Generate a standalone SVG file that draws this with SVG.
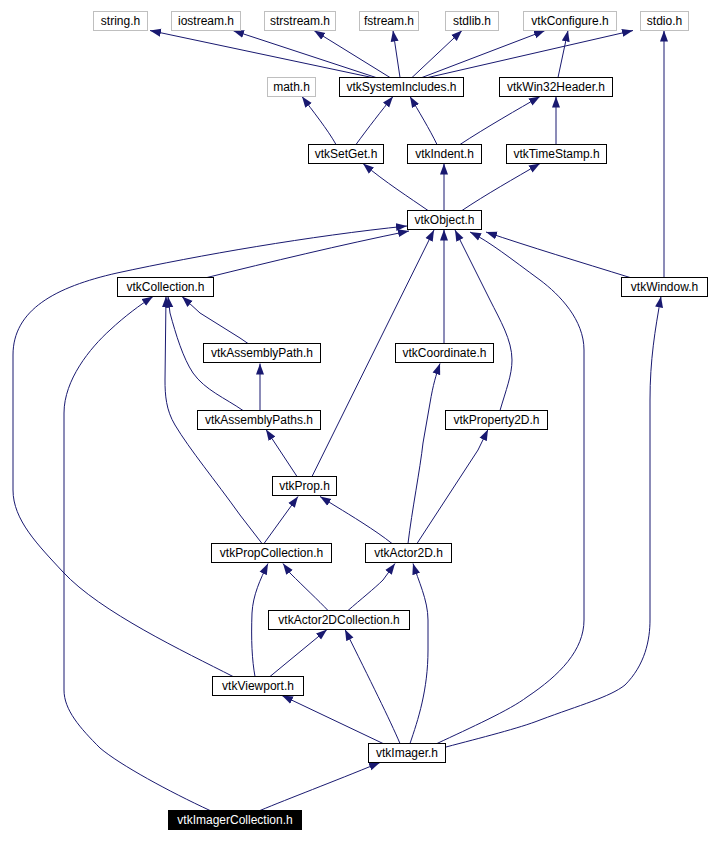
<svg xmlns="http://www.w3.org/2000/svg" width="709" height="842" viewBox="0 0 709 842">
<style>
.n rect{fill:#fff;stroke:#000;stroke-width:1}
.g rect{fill:#fff;stroke:#bfbfbf;stroke-width:1}
.r rect{fill:#000;stroke:#000;stroke-width:1}
text{font-family:"Liberation Sans",Arial,sans-serif;font-size:12px;text-anchor:middle;fill:#000}
.r text{fill:#fff}
#edges path{fill:none;stroke:#191970;stroke-width:1;marker-end:url(#ah)}
</style>
<defs>
<marker id="ah" markerWidth="11" markerHeight="9" refX="11" refY="4.5" orient="auto" markerUnits="userSpaceOnUse">
<path d="M0,0.5 L11,4.5 L0,8.5 z" fill="#191970"/>
</marker>
</defs>
<rect width="709" height="842" fill="#fff"/>
<g id="edges">
<path d="M372,77.5 L150,30.5"/>
<path d="M376,77.5 L233,30.5"/>
<path d="M390,77.5 L314,30.5"/>
<path d="M400,77.5 L393,30.5"/>
<path d="M412,77.5 L462,30.5"/>
<path d="M422,77.5 L545,30.5"/>
<path d="M428,77.5 L633,30.5"/>
<path d="M558,77.5 L568,30.5"/>
<path d="M664,277.5 L664,30.5"/>
<path d="M336,144.5 C328,130 312,110 302,96.5"/>
<path d="M356,144.5 C368,128 382,110 393,96.5"/>
<path d="M437,144.5 C430,130 418,110 410,96.5"/>
<path d="M460,144.5 C485,128 520,108 540,96.5"/>
<path d="M556,144.5 L556,96.5"/>
<path d="M428,210.5 C410,198 385,182 363,163.5"/>
<path d="M444,210.5 L444,163.5"/>
<path d="M462,210.5 C485,195 515,178 540,163.5"/>
<path d="M207,277.5 C270,262 340,245 409,231"/>
<path d="M233,676.5 C185,652 100,612 63,572 C38,545 13,520 13,490 L13,355 C13,310 55,287 117,273 C200,255 310,236 407,226"/>
<path d="M312,476.5 L434,230"/>
<path d="M444,343.5 L444,229.5"/>
<path d="M500,410.5 C506,390 512,375 512,360 C512,340 500,320 490,300 L455,230"/>
<path d="M437,743.5 C470,728 510,710 527,697 C560,675 584,650 584,620 L584,350 C584,320 560,295 540,280 C510,258 490,242 470,232"/>
<path d="M630,277.5 C580,262 530,247 486,232"/>
<path d="M210,810.5 C170,792 120,765 100,748 C80,728 64,710 64,690 L64,413 C64,380 90,348 110,330 C125,316 140,305 153,296.5"/>
<path d="M262,543.5 L240,515 C215,480 190,450 175,425 C166,410 165,395 165,380 L166,296.5"/>
<path d="M243,410.5 C225,398 205,390 193,373 C183,358 176,335 170,313 L168,296.5"/>
<path d="M248,343.5 L240,338 L200,313 L182,296.5"/>
<path d="M446,747 C480,738 520,728 540,720 C580,705 610,697 625,685 C645,665 650,640 650,620 L650,400 C650,360 655,330 661,296.5"/>
<path d="M260,410.5 L260,363.5"/>
<path d="M408,543.5 C412,510 420,470 423,443 L430,403 C433,385 436,375 440,363.5"/>
<path d="M297,476.5 L266,429.5"/>
<path d="M417,543.5 L478,450 L488,429.5"/>
<path d="M264,543.5 L298,496.5"/>
<path d="M392,543.5 C375,530 350,515 337,507 L320,496.5"/>
<path d="M328,610.5 C318,600 305,588 290,573 L283,563.5"/>
<path d="M348,610.5 C360,600 375,588 383,580 L395,563.5"/>
<path d="M255,676.5 C252,660 251,640 252,613 C253,595 260,580 268,563.5"/>
<path d="M410,743.5 C418,720 428,690 428,650 L428,620 C428,600 418,580 413,563.5"/>
<path d="M270,676.5 L327,629.5"/>
<path d="M400,743.5 C390,720 370,680 345,629.5"/>
<path d="M383,743.5 L282,695.5"/>
<path d="M260,810.5 C290,798 330,783 380,762.5"/>
</g>
<g id="string_h" class="g"><rect x="93.5" y="11.5" width="54" height="19"/><text x="120.5" y="25">string.h</text></g>
<g id="iostream_h" class="g"><rect x="171.5" y="11.5" width="69" height="19"/><text x="206" y="25">iostream.h</text></g>
<g id="strstream_h" class="g"><rect x="264.5" y="11.5" width="71" height="19"/><text x="300" y="25">strstream.h</text></g>
<g id="fstream_h" class="g"><rect x="359.5" y="11.5" width="59" height="19"/><text x="389" y="25">fstream.h</text></g>
<g id="stdlib_h" class="g"><rect x="445.5" y="11.5" width="53" height="19"/><text x="472" y="25">stdlib.h</text></g>
<g id="vtkConfigure_h" class="g"><rect x="523.5" y="11.5" width="93" height="19"/><text x="570" y="25">vtkConfigure.h</text></g>
<g id="stdio_h" class="g"><rect x="640.5" y="11.5" width="48" height="19"/><text x="664.5" y="25">stdio.h</text></g>
<g id="math_h" class="g"><rect x="267.5" y="77.5" width="48" height="19"/><text x="291.5" y="91">math.h</text></g>
<g id="vtkSystemIncludes_h" class="n"><rect x="339.5" y="77.5" width="124" height="19"/><text x="401.5" y="91">vtkSystemIncludes.h</text></g>
<g id="vtkWin32Header_h" class="n"><rect x="499.5" y="77.5" width="113" height="19"/><text x="556" y="91">vtkWin32Header.h</text></g>
<g id="vtkSetGet_h" class="n"><rect x="308.5" y="144.5" width="75" height="19"/><text x="346" y="158">vtkSetGet.h</text></g>
<g id="vtkIndent_h" class="n"><rect x="407.5" y="144.5" width="74" height="19"/><text x="444.5" y="158">vtkIndent.h</text></g>
<g id="vtkTimeStamp_h" class="n"><rect x="506.5" y="144.5" width="100" height="19"/><text x="556.5" y="158">vtkTimeStamp.h</text></g>
<g id="vtkObject_h" class="n"><rect x="407.5" y="210.5" width="74" height="19"/><text x="444.5" y="224">vtkObject.h</text></g>
<g id="vtkCollection_h" class="n"><rect x="117.5" y="277.5" width="96" height="19"/><text x="165.5" y="291">vtkCollection.h</text></g>
<g id="vtkWindow_h" class="n"><rect x="621.5" y="277.5" width="86" height="19"/><text x="664.5" y="291">vtkWindow.h</text></g>
<g id="vtkAssemblyPath_h" class="n"><rect x="203.5" y="343.5" width="117" height="19"/><text x="262" y="357">vtkAssemblyPath.h</text></g>
<g id="vtkCoordinate_h" class="n"><rect x="395.5" y="343.5" width="98" height="19"/><text x="444.5" y="357">vtkCoordinate.h</text></g>
<g id="vtkAssemblyPaths_h" class="n"><rect x="197.5" y="410.5" width="123" height="19"/><text x="259" y="424">vtkAssemblyPaths.h</text></g>
<g id="vtkProperty2D_h" class="n"><rect x="445.5" y="410.5" width="102" height="19"/><text x="496.5" y="424">vtkProperty2D.h</text></g>
<g id="vtkProp_h" class="n"><rect x="272.5" y="476.5" width="64" height="19"/><text x="304.5" y="490">vtkProp.h</text></g>
<g id="vtkPropCollection_h" class="n"><rect x="211.5" y="543.5" width="120" height="19"/><text x="271.5" y="557">vtkPropCollection.h</text></g>
<g id="vtkActor2D_h" class="n"><rect x="365.5" y="543.5" width="86" height="19"/><text x="408.5" y="557">vtkActor2D.h</text></g>
<g id="vtkActor2DCollection_h" class="n"><rect x="268.5" y="610.5" width="141" height="19"/><text x="339" y="624">vtkActor2DCollection.h</text></g>
<g id="vtkViewport_h" class="n"><rect x="212.5" y="676.5" width="91" height="19"/><text x="258" y="690">vtkViewport.h</text></g>
<g id="vtkImager_h" class="n"><rect x="368.5" y="743.5" width="77" height="19"/><text x="407" y="757">vtkImager.h</text></g>
<g id="vtkImagerCollection_h" class="r"><rect x="168.5" y="810.5" width="133" height="19"/><text x="235" y="824">vtkImagerCollection.h</text></g>
</svg>
